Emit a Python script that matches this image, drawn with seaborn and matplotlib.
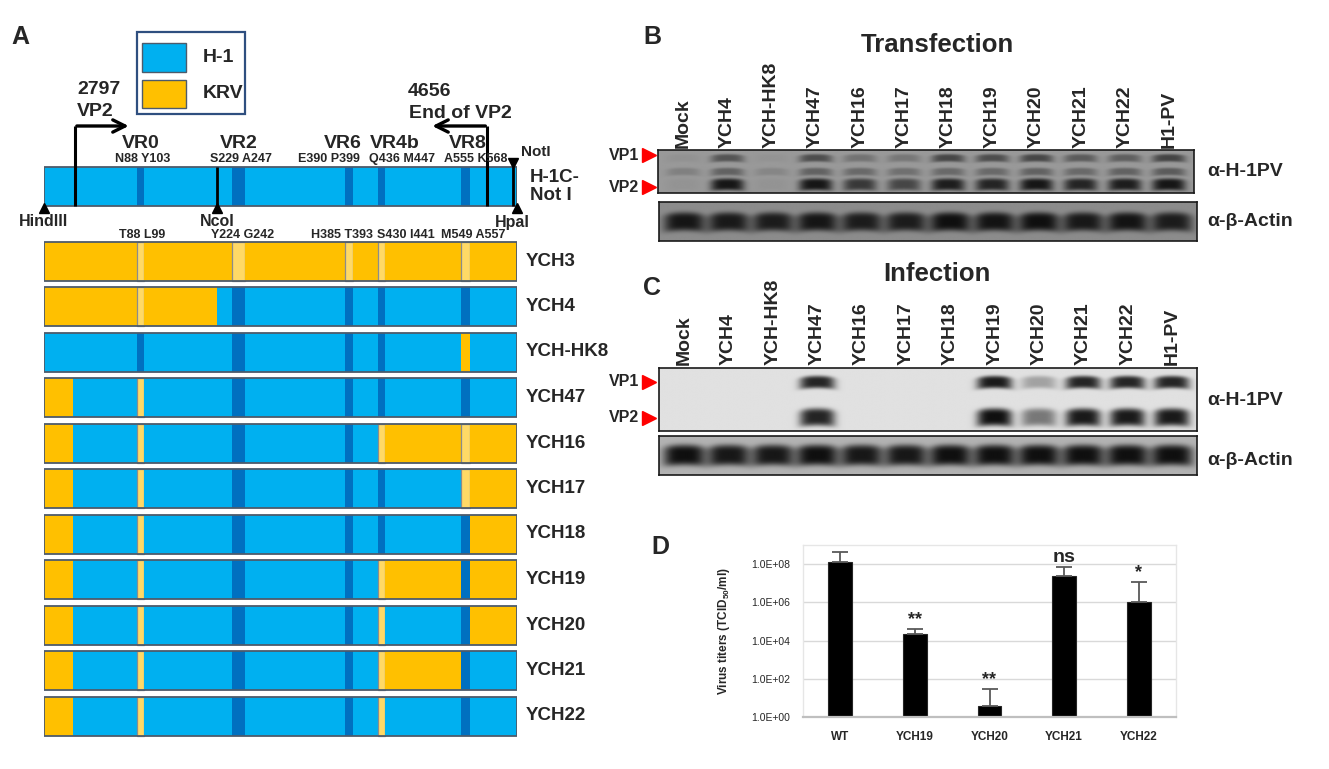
import numpy as np
import pandas as pd
import seaborn as sns
import matplotlib.pyplot as plt
from matplotlib.patches import Rectangle

# ---------------- data ----------------
# panel A: segment edges along the capsid map (fraction of the construct)
seg_edges = [0, 0.061, 0.197, 0.211, 0.366, 0.397, 0.425, 0.636, 0.653, 0.706, 0.721, 0.882, 0.901, 1.0]
# B = H-1, D = H-1 variable region, K = KRV, L = KRV variable region
constructs = ['H-1C-\nNot I', 'YCH3', 'YCH4', 'YCH-HK8', 'YCH47', 'YCH16', 'YCH17',
              'YCH18', 'YCH19', 'YCH20', 'YCH21', 'YCH22']
maps = ['BBDBBDBDBDBDB', 'KKLKKLKLKLKLK', 'KKLKBDBDBDBDB', 'BBDBBDBDBDBKB',
        'KBLBBDBDBDBDB', 'KBLBBDBDBLKLK', 'KBLBBDBDBDBLK', 'KBLBBDBDBDBDK',
        'KBLBBDBDBLKDK', 'KBLBBDBDBLBDK', 'KBLBBDBDBLKDB', 'KBLBBDBDBLBDB']
vr_names = ['VR0', 'VR2', 'VR6', 'VR4b', 'VR8']
h1_res = ['N88 Y103', 'S229 A247', 'E390 P399', 'Q436 M447', 'A555 K568']
krv_res = ['T88 L99', 'Y224 G242', 'H385 T393', 'S430 I441', 'M549 A557']
vp2_start, vp2_end = 0.0655, 0.937
site_names = ['HindIII', 'NcoI', 'HpaI']
site_pos = [0.0, 0.366, 1.0]
noti_pos = 0.992

# panels B, C: western blot band intensities per lane (0 = none, 1 = saturated)
lanes = ['Mock', 'YCH4', 'YCH-HK8', 'YCH47', 'YCH16', 'YCH17', 'YCH18', 'YCH19',
         'YCH20', 'YCH21', 'YCH22', 'H1-PV']
tf_vp1 = [0.05, 0.5, 0.04, 0.55, 0.28, 0.25, 0.6, 0.55, 0.6, 0.45, 0.42, 0.62]
tf_mid = [0.18, 0.4, 0.14, 0.4, 0.35, 0.3, 0.35, 0.35, 0.4, 0.35, 0.4, 0.45]
tf_vp2 = [0.04, 0.95, 0.04, 0.95, 0.7, 0.6, 0.9, 0.85, 0.95, 0.85, 0.9, 0.95]
tf_actin = [0.95, 0.92, 0.9, 0.95, 0.9, 0.9, 1.0, 0.97, 1.0, 0.93, 0.97, 0.9]
inf_vp1 = [0, 0, 0, 0.9, 0, 0, 0, 0.95, 0.3, 0.9, 0.9, 0.9]
inf_vp2 = [0, 0, 0, 0.9, 0, 0, 0, 1.0, 0.5, 0.95, 0.95, 0.95]
inf_actin = [1.0, 0.95, 0.95, 1.0, 0.95, 0.95, 1.0, 1.0, 1.0, 1.0, 1.0, 1.0]

# panel D: virus titers
groups = ['WT', 'YCH19', 'YCH20', 'YCH21', 'YCH22']
titers = [1.3e8, 2.1e4, 3.8, 2.3e7, 1.0e6]
err_up = [3.0e8, 1.7e4, 26, 4.6e7, 1.0e7]
signif = ['', '**', '**', 'ns', '*']

# ---------------- style ----------------
sns.set_theme(style='white')
plt.rcParams['font.family'] = ['Liberation Sans', 'DejaVu Sans']
plt.rcParams['mathtext.fontset'] = 'custom'
plt.rcParams['mathtext.rm'] = 'Liberation Sans:bold'
plt.rcParams['mathtext.bf'] = 'Liberation Sans:bold'

W, H = 1329, 769
fig = plt.figure(figsize=(W / 100, H / 100), dpi=100)
fig.patch.set_facecolor('white')


def ftext(x, y, s, **kw):
    kw.setdefault('fontweight', 'bold')
    return fig.text(x / W, 1 - y / H, s, **kw)


def box(x0, y0, x1, y1):
    return fig.add_axes([x0 / W, 1 - y1 / H, (x1 - x0) / W, (y1 - y0) / H])


# ---------------- panel A ----------------
cols = {'B': '#00B0F0', 'D': '#0070C0', 'K': '#FFC000', 'L': '#FFD966'}
ax_a = fig.add_axes([44 / W, 0, 473 / W, 1])
ax_a.set_xlim(0, 1)
ax_a.set_ylim(H, 0)
ax_a.axis('off')

row_y = [186.5] + [261 + 45.5 * i for i in range(len(constructs) - 1)]
bar_h = 39
for name, code, yc in zip(constructs, maps, row_y):
    for j, c in enumerate(code):
        l, r = seg_edges[j], seg_edges[j + 1]
        ax_a.barh(yc, r - l, left=l, height=bar_h, color=cols[c],
                  edgecolor='#8c8c8c' if c == 'L' else 'none', linewidth=0.9)
    ax_a.add_patch(Rectangle((0, yc - bar_h / 2), 1, bar_h, fill=False,
                             edgecolor='#4d5b6b', lw=1.3))
    if '\n' in name:
        ax_a.text(1.027, yc, name, ha='left', va='center', fontsize=13.5,
                  fontweight='bold', linespacing=1.05, clip_on=False)
    else:
        ax_a.text(1.019, yc, name, ha='left', va='center', fontsize=13.5,
                  fontweight='bold', clip_on=False)

top0, bot0 = row_y[0] - bar_h / 2, row_y[0] + bar_h / 2
# sites inside the H-1C bar
ax_a.vlines([vp2_start, vp2_end], 126, bot0, color='black', lw=2.2)
ax_a.vlines([site_pos[1]], top0, bot0 + 2, color='black', lw=2.0)
ax_a.vlines([noti_pos], top0, bot0, color='black', lw=2.0)
ax_a.annotate('', xy=(0.185, 126), xytext=(vp2_start - 0.002, 126),
              arrowprops=dict(arrowstyle='->', lw=2.4, mutation_scale=22, color='black'))
ax_a.annotate('', xy=(0.815, 126), xytext=(vp2_end + 0.002, 126),
              arrowprops=dict(arrowstyle='->', lw=2.4, mutation_scale=22, color='black'))
ax_a.plot(site_pos, [bot0 + 2] * 3, ls='none', marker='^', color='black', ms=7, clip_on=False)
ax_a.plot([noti_pos], [top0 - 4], ls='none', marker='v', color='black', ms=6.5, clip_on=False)
ax_a.text(noti_pos + 0.016, 152, 'NotI', ha='left', va='center', fontsize=11, fontweight='bold')
for nm, xp in zip(site_names, [0.0, 0.366, 0.99]):
    ax_a.text(xp, 222, nm, ha='center', va='center', fontsize=11.5, fontweight='bold', clip_on=False)

ax_a.text(0.070, 89, '2797', ha='left', va='center', fontsize=14, fontweight='bold')
ax_a.text(0.070, 112, 'VP2', ha='left', va='center', fontsize=14, fontweight='bold')
ax_a.text(0.770, 91, '4656', ha='left', va='center', fontsize=14, fontweight='bold')
ax_a.text(0.772, 113, 'End of VP2', ha='left', va='center', fontsize=14, fontweight='bold')

vr_label_x = [0.205, 0.412, 0.632, 0.742, 0.896]
h1_label_x = [0.209, 0.416, 0.603, 0.757, 0.913]
krv_label_x = [0.207, 0.419, 0.630, 0.765, 0.907]
for v, xv in zip(vr_names, vr_label_x):
    ax_a.text(xv, 144, v, ha='center', va='center', fontsize=14, fontweight='bold')
for v, xv in zip(h1_res, h1_label_x):
    ax_a.text(xv, 159, v, ha='center', va='center', fontsize=9, fontweight='bold')
for v, xv in zip(krv_res, krv_label_x):
    ax_a.text(xv, 235, v, ha='center', va='center', fontsize=9, fontweight='bold')

# legend box
ax_a.add_patch(Rectangle((0.197, 32), 0.228, 82, fill=False, edgecolor='#2F4F7F', lw=1.6))
ax_a.add_patch(Rectangle((0.207, 43), 0.093, 29, facecolor=cols['B'], edgecolor='#4d5b6b', lw=1))
ax_a.add_patch(Rectangle((0.207, 80), 0.093, 28, facecolor=cols['K'], edgecolor='#4d5b6b', lw=1))
ax_a.text(0.336, 57, 'H-1', ha='left', va='center', fontsize=14, fontweight='bold')
ax_a.text(0.336, 94, 'KRV', ha='left', va='center', fontsize=14, fontweight='bold')

ftext(20, 37, 'A', fontsize=18, ha='center', va='center')


# ---------------- panels B and C ----------------
def draw_blot(ax, bands, rows, sig_y, bg, half_w=0.38, bend=0.025):
    xs = np.linspace(-0.566, 11.56, 700)
    ys = np.linspace(0, 1, 120)
    X, Y = np.meshgrid(xs, ys)
    dark = np.zeros_like(X)
    for vals, yc, sy in zip(bands, rows, sig_y):
        for i, v in enumerate(vals):
            dx = (X - i) / half_w
            yoff = yc + bend * dx ** 2
            dark += v * np.exp(-dx ** 4) * np.exp(-((Y - yoff) / sy) ** 4)
    img = bg - (bg - 0.06) * np.clip(dark, 0, 1)
    ax.imshow(img, cmap='gray', vmin=0, vmax=1, extent=(-0.566, 11.56, 1, 0),
              aspect='auto', interpolation='bilinear')
    ax.set_xlim(-0.566, 11.56)
    ax.set_ylim(1, 0)
    ax.set_xticks([])
    ax.set_yticks([])
    for s in ax.spines.values():
        s.set_color('#1a1a1a')
        s.set_linewidth(1.2)
        s.set_visible(True)


def lane_labels(ax, gap):
    for i, lab in enumerate(lanes):
        ax.annotate(lab, xy=(i, 1), xycoords=('data', 'axes fraction'),
                    xytext=(0, gap), textcoords='offset pixels', rotation=90,
                    ha='center', va='bottom', fontsize=14, fontweight='bold')


ax_tb = box(658, 150, 1194, 193)
draw_blot(ax_tb, [tf_vp1, tf_mid, tf_vp2], [0.18, 0.5, 0.8], [0.09, 0.09, 0.14], 0.6)
lane_labels(ax_tb, 2)
ax_ta = box(659, 202, 1197, 241)
draw_blot(ax_ta, [tf_actin], [0.5], [0.24], 0.55, half_w=0.46, bend=0.05)

ax_ib = box(659, 368, 1197, 431)
draw_blot(ax_ib, [inf_vp1, inf_vp2], [0.22, 0.78], [0.1, 0.14], 0.88, half_w=0.4)
lane_labels(ax_ib, 3)
ax_ia = box(659, 436, 1197, 475)
draw_blot(ax_ia, [inf_actin], [0.5], [0.26], 0.7, half_w=0.47, bend=0.04)

ftext(652, 37, 'B', fontsize=18, ha='center', va='center')
ftext(652, 288, 'C', fontsize=18, ha='center', va='center')
ftext(937, 45, 'Transfection', fontsize=18.5, ha='center', va='center')
ftext(937, 274, 'Infection', fontsize=18.5, ha='center', va='center')
for yy1, yy2 in [(155, 187), (382, 418)]:
    ftext(639, yy1, 'VP1', fontsize=11.5, ha='right', va='center')
    ftext(639, yy2, 'VP2', fontsize=11.5, ha='right', va='center')
    fig.lines.append(plt.Line2D([649 / W, 649 / W], [1 - yy1 / H, 1 - yy2 / H], ls='none',
                                marker='>', ms=10, color='#ff0000', transform=fig.transFigure))
for ya, yb in [(172, 222), (400, 460)]:
    ftext(1207, ya, 'α-H-1PV', fontsize=14, ha='left', va='center')
    ftext(1207, yb, 'α-β-Actin', fontsize=14, ha='left', va='center')

# ---------------- panel D ----------------
ax_d = box(803, 545, 1176, 717)
df = pd.DataFrame({'group': groups, 'titer': titers})
sns.barplot(data=df, x='group', y='titer', color='black', saturation=1, width=0.32,
            errorbar=None, edgecolor='#262626', linewidth=0.8, ax=ax_d)
ax_d.errorbar(np.arange(len(groups)), titers, yerr=[np.zeros(len(groups)), err_up],
              fmt='none', ecolor='#595959', elinewidth=1.3, capsize=6, capthick=1.3)
ax_d.set_yscale('log')
ax_d.set_ylim(1, 1e9)
ax_d.set_xlim(-0.5, len(groups) - 0.5)
ticks = [1, 1e2, 1e4, 1e6, 1e8]
ax_d.set_yticks(ticks)
ax_d.set_yticklabels([f'{t:.1E}' for t in ticks], fontsize=7.5)
ax_d.yaxis.set_minor_locator(plt.NullLocator())
for t in ticks[1:]:
    ax_d.axhline(t, color='#d9d9d9', lw=1, zorder=0)
ax_d.tick_params(axis='both', length=0)
ax_d.tick_params(axis='y', pad=9)
ax_d.tick_params(axis='x', pad=10)
for lab in ax_d.get_xticklabels():
    lab.set_fontweight('bold')
    lab.set_fontsize(8.5)
ax_d.set_xlabel('')
ax_d.set_ylabel(r'Virus titers (TCID$_{50}$/ml)', fontsize=8.5, fontweight='bold')
ax_d.yaxis.set_label_coords(-0.19, 0.5)
for side, s in ax_d.spines.items():
    s.set_visible(True)
    s.set_color('#bfbfbf' if side == 'bottom' else '#e6e6e6')
    s.set_linewidth(1.6 if side == 'bottom' else 1)
for i, (t, e, s) in enumerate(zip(titers, err_up, signif)):
    if s:
        ax_d.text(i, (t + e) * 10 ** 0.05, s, ha='center', va='bottom',
                  fontsize=14 if s == 'ns' else 13, fontweight='bold')
ftext(660, 547, 'D', fontsize=18, ha='center', va='center')

fig.savefig('out.png', dpi=100, facecolor='white')
